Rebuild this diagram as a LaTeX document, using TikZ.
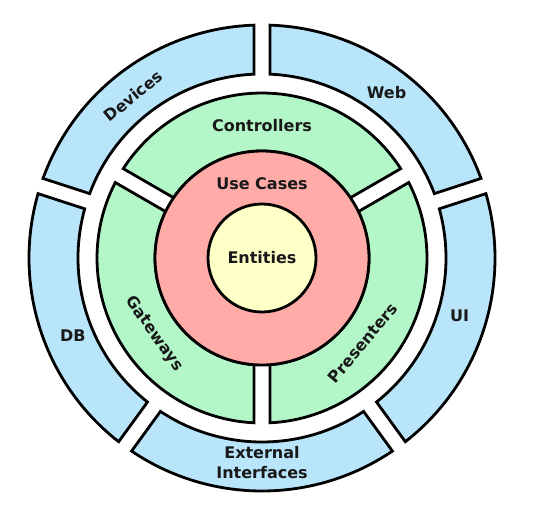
\documentclass[tikz,border=0pt]{standalone}
\usepackage{fontspec}
\setmainfont{DejaVu Sans}
\usepackage{xcolor}
\usepackage{tikz}
\usetikzlibrary{calc}
\definecolor{entityYellow}{HTML}{FFFFC8}
\definecolor{caseRed}{HTML}{FFABA8}
\definecolor{adapterGreen}{HTML}{B3F7C9}
\definecolor{outerBlue}{HTML}{B9E5FB}
\tikzset{
    layer/.style={draw=black, line width=2.8pt, line join=miter},
    entities/.style={layer, fill=entityYellow},
    usecases/.style={layer, fill=caseRed},
    adapter/.style={layer, fill=adapterGreen},
    framework/.style={layer, fill=outerBlue},
    ringText/.style={font=\bfseries\fontsize{16}{20}\selectfont, color=black!90, align=center, inner sep=0pt}
}
% half width of the white gaps between ring parts
\def\gaphalf{8}
% #1 style, #2 inner radius, #3 outer radius, #4 start axis, #5 end axis
\newcommand{\ringpart}[5]{%
    \pgfmathsetmacro{\outA}{#4+asin(\gaphalf/#3)}
    \pgfmathsetmacro{\outB}{#5-asin(\gaphalf/#3)}
    \pgfmathsetmacro{\inA}{#4+asin(\gaphalf/#2)}
    \pgfmathsetmacro{\inB}{#5-asin(\gaphalf/#2)}
    \draw[#1] (\outA:#3pt) arc[start angle=\outA, end angle=\outB, radius=#3pt]
        -- (\inB:#2pt) arc[start angle=\inB, end angle=\inA, radius=#2pt] -- cycle;
}

\begin{document}
\begin{tikzpicture}
    \useasboundingbox (-262pt,-259pt) rectangle (275pt,258pt);

    % frameworks and drivers
    \ringpart{framework}{184}{233}{18}{90}
    \ringpart{framework}{184}{233}{90}{162}
    \ringpart{framework}{184}{233}{162}{234}
    \ringpart{framework}{184}{233}{234}{306}
    \ringpart{framework}{184}{233}{306}{378}

    % interface adapters
    \ringpart{adapter}{107}{165}{30}{150}
    \ringpart{adapter}{107}{165}{150}{270}
    \ringpart{adapter}{107}{165}{270}{390}

    % core
    \draw[usecases] (0,0) circle[radius=107pt];
    \draw[entities] (0,0) circle[radius=54pt];

    % labels
    \node[ringText] (Entities) at (0,0) {Entities};
    \node[ringText] (UseCases) at (90:74pt) {Use Cases};
    \node[ringText] (Controllers) at (90:132pt) {Controllers};
    \node[ringText, rotate=-55] (Gateways) at (215:132pt) {Gateways};
    \node[ringText, rotate=50] (Presenters) at (320:132pt) {Presenters};
    \node[ringText, rotate=39] (Devices) at (128.5:207pt) {Devices};
    \node[ringText] (Web) at (53:207pt) {Web};
    \node[ringText] (UI) at (-16.4:206pt) {UI};
    \node[ringText] (DB) at (202.4:204.5pt) {DB};
    \node[ringText] (External) at (270:205pt) {External\\Interfaces};
\end{tikzpicture}
\end{document}
